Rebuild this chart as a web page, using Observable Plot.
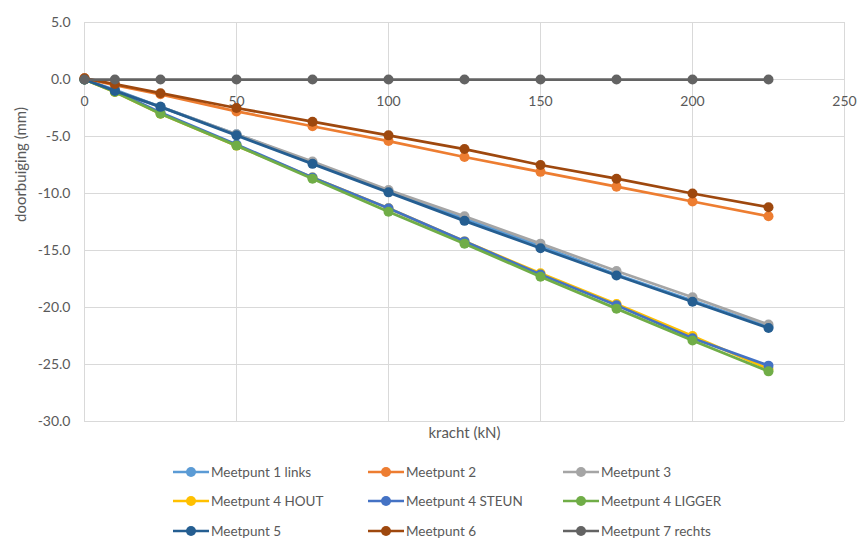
<!DOCTYPE html>
<html><head><meta charset="utf-8">
<script src="https://cdn.jsdelivr.net/npm/d3@7"></script>
<script src="https://cdn.jsdelivr.net/npm/@observablehq/plot@0.6"></script>
<style>
body{margin:0;background:#fff;font-family:Lato,"Open Sans",sans-serif;}
#wrap{position:relative;width:859px;height:539px;}
#legend{position:absolute;left:0;top:450px;width:859px;height:89px;}
.li{position:absolute;display:flex;align-items:center;font-size:13.5px;color:#595959;white-space:nowrap;height:20px;}
.li svg{margin-right:1px;}
</style></head><body>
<div id="wrap"><div id="chart"></div><div id="legend"></div></div>
<script>
const kracht = [0, 10, 25, 50, 75, 100, 125, 150, 175, 200, 225];
const seriesNames = ["Meetpunt 1 links","Meetpunt 2","Meetpunt 3","Meetpunt 4 HOUT","Meetpunt 4 STEUN","Meetpunt 4 LIGGER","Meetpunt 5","Meetpunt 6","Meetpunt 7 rechts"];
const seriesColors = ["#5B9BD5","#ED7D31","#A5A5A5","#FFC000","#4472C4","#70AD47","#255E91","#9E480E","#636363"];
const m1 = [0, -0.9, -2.4, -4.8, -7.3, -9.8, -12.2, -14.6, -17.1, -19.4, -21.7];
const m2 = [0.1, -0.5, -1.3, -2.8, -4.1, -5.4, -6.8, -8.1, -9.4, -10.7, -12.0];
const m3 = [0, -1.0, -2.4, -4.8, -7.2, -9.7, -12.0, -14.4, -16.8, -19.1, -21.5];
const m4hout = [0, -1.1, -3.0, -5.8, -8.6, -11.3, -14.2, -17.0, -19.7, -22.5, -25.4];
const m4steun = [0, -1.0, -2.9, -5.7, -8.6, -11.3, -14.2, -17.1, -19.8, -22.7, -25.1];
const m4ligger = [0, -1.1, -3.0, -5.8, -8.7, -11.6, -14.4, -17.3, -20.1, -22.9, -25.6];
const m5 = [0, -1.0, -2.4, -4.9, -7.4, -9.9, -12.4, -14.8, -17.2, -19.5, -21.8];
const m6 = [0.1, -0.4, -1.2, -2.5, -3.7, -4.9, -6.1, -7.5, -8.7, -10.0, -11.2];
const m7 = [0, 0, 0, 0, 0, 0, 0, 0, 0, 0, 0];
const seriesValues = [m1, m2, m3, m4hout, m4steun, m4ligger, m5, m6, m7];
const xTicks = [0, 50, 100, 150, 200, 250];
const yTicks = [5, 0, -5, -10, -15, -20, -25, -30];
const xLabel = "kracht (kN)";
const yLabel = "doorbuiging (mm)";

const data = [];
seriesNames.forEach((s, i) => seriesValues[i].forEach((v, j) => data.push({series: s, x: kracht[j], y: v})));

const marks = [
  Plot.ruleY(yTicks, {stroke: "#D9D9D9", strokeWidth: 1}),
  Plot.ruleX(xTicks, {stroke: "#D9D9D9", strokeWidth: 1}),
  Plot.axisY(yTicks, {tickSize: 0, tickPadding: 14, tickFormat: d => d.toFixed(1), label: null, fontSize: 14, color: "#595959"}),
  Plot.text(xTicks, {x: d => d, y: 0, text: d => String(d), dy: 22, fontSize: 14, fill: "#595959"}),
  Plot.text([xLabel], {frameAnchor: "bottom", dy: 16, fontSize: 15, fill: "#595959"}),
  Plot.text([yLabel], {frameAnchor: "left", dx: -63, rotate: -90, fontSize: 15, fill: "#595959"})
];
seriesNames.forEach((s, i) => {
  const sub = data.filter(d => d.series === s);
  marks.push(Plot.line(sub, {x: "x", y: "y", stroke: seriesColors[i], strokeWidth: 2.75}));
  marks.push(Plot.dot(sub, {x: "x", y: "y", fill: seriesColors[i], r: 5}));
});

const plot = Plot.plot({
  width: 859, height: 450,
  marginLeft: 84, marginRight: 15, marginTop: 22, marginBottom: 29,
  style: {fontFamily: "Lato, 'Open Sans', sans-serif", background: "#fff"},
  x: {domain: [0, 250], axis: null},
  y: {domain: [-30, 5], axis: null},
  marks
});
document.getElementById("chart").appendChild(plot);

const legend = document.getElementById("legend");
const colX = [173, 368, 563];
const rowY = [22, 51, 81];
seriesNames.forEach((s, i) => {
  const el = document.createElement("div");
  el.className = "li";
  el.style.left = colX[i % 3] + "px";
  el.style.top = (rowY[Math.floor(i / 3)] - 10) + "px";
  el.innerHTML = `<svg width="37" height="20"><line x1="0" x2="36" y1="10" y2="10" stroke="${seriesColors[i]}" stroke-width="2.5"/><circle cx="18" cy="10" r="5" fill="${seriesColors[i]}"/></svg><span>${s}</span>`;
  legend.appendChild(el);
});
</script></body></html>
